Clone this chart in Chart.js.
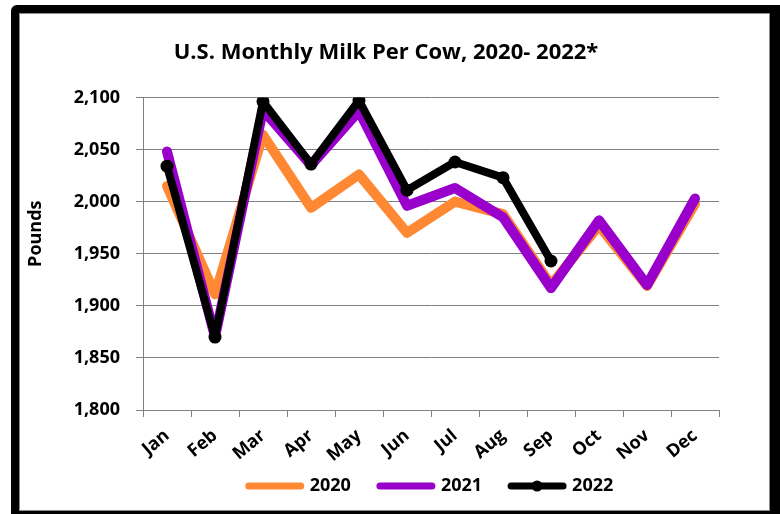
<!DOCTYPE html>
<html><head><meta charset="utf-8">
<script src="https://cdn.jsdelivr.net/npm/chart.js@4/dist/chart.umd.min.js"></script>
<style>
html,body{margin:0;padding:0;background:#fff;}
#wrap{position:relative;width:780px;height:514px;overflow:hidden;background:#fff;}
#frame{position:absolute;left:11px;top:5px;width:769px;height:516px;box-sizing:border-box;border-style:solid;border-color:#000;border-width:8px 10px 10px 8px;border-top-left-radius:6px;box-shadow:inset 0 0 0 1px #8a8a8a;}
#c{position:absolute;left:0;top:0;}
</style></head><body>
<div id="wrap"><div id="frame"></div><canvas id="c" width="780" height="514"></canvas></div>
<script>
const months = ['Jan','Feb','Mar','Apr','May','Jun','Jul','Aug','Sep','Oct','Nov','Dec'];
const milk2020 = [2015, 1911, 2064, 1994, 2026, 1970, 2000, 1988, 1920, 1977, 1919, 1998];
const milk2021 = [2048, 1870, 2088, 2035, 2087, 1996, 2013, 1985, 1917, 1982, 1920, 2003];
const milk2022 = [2034, 1870, 2096, 2036, 2097, 2011, 2038, 2023, 1943];
const seriesNames = ['2020', '2021', '2022'];
const yMin = 1800, yMax = 2100, yStep = 50;
const titleText = 'U.S. Monthly Milk Per Cow, 2020- 2022*';
const yTitle = 'Pounds';

const FONT = '"Open Sans"';
const colors = ['#FF8833', '#9900CC', '#000000'];

const legendDot = {
  id: 'legendDot',
  afterDraw(chart) {
    const lg = chart.legend;
    if (!lg || !lg.legendHitBoxes) return;
    const i = lg.legendItems.findIndex(it => it.datasetIndex === 2);
    const hb = lg.legendHitBoxes[i];
    if (!hb) return;
    const bw = lg.options.labels.pointStyleWidth;
    const ctx = chart.ctx;
    ctx.save();
    ctx.fillStyle = '#000';
    ctx.beginPath();
    ctx.arc(hb.left + bw / 2, hb.top + 9, 5.5, 0, Math.PI * 2);
    ctx.fill();
    ctx.restore();
  }
};

function draw() {
  const ctx = document.getElementById('c').getContext('2d');
  new Chart(ctx, {
    type: 'line',
    data: {
      labels: months,
      datasets: [
        { label: seriesNames[0], data: milk2020, borderColor: colors[0], backgroundColor: colors[0],
          borderWidth: 10, pointRadius: 0, order: 3 },
        { label: seriesNames[1], data: milk2021, borderColor: colors[1], backgroundColor: colors[1],
          borderWidth: 10, pointRadius: 0, order: 2 },
        { label: seriesNames[2], data: milk2022, borderColor: colors[2], backgroundColor: colors[2],
          borderWidth: 8, pointRadius: 6.5, pointBorderWidth: 0, pointBackgroundColor: '#000', order: 1 }
      ]
    },
    options: {
      responsive: false,
      devicePixelRatio: 1,
      animation: false,
      events: [],
      elements: { line: { tension: 0, borderCapStyle: 'round', borderJoinStyle: 'round' } },
      layout: { padding: { left: 0, right: 8, top: 0, bottom: 9 } },
      plugins: {
        tooltip: { enabled: false },
        title: {
          display: true, text: titleText, color: '#000',
          font: { family: FONT, size: 22, weight: 'bold' },
          padding: { top: 40, bottom: 31 }
        },
        legend: {
          position: 'bottom', fullSize: false,
          labels: {
            usePointStyle: true, pointStyleWidth: 52, boxHeight: 18, padding: 29,
            color: '#000', font: { family: FONT, size: 18, weight: 'bold' },
            generateLabels: (chart) => chart.data.datasets.map((d, i) => ({
              text: d.label, datasetIndex: i, pointStyle: 'line',
              strokeStyle: d.borderColor, fillStyle: d.borderColor,
              lineWidth: 7, lineCap: 'round', fontColor: '#000', hidden: false
            }))
          }
        }
      },
      scales: {
        x: {
          offset: true,
          grid: { drawOnChartArea: false, offset: true, color: '#808080', tickLength: 7 },
          border: { color: '#808080' },
          ticks: { color: '#000', font: { family: FONT, size: 18, weight: 'bold' },
                   minRotation: 40, maxRotation: 40, padding: 8, autoSkip: false },
          afterFit: s => { s.height = 38; s._computeLabelArea = () => undefined; }
        },
        y: {
          min: yMin, max: yMax,
          grid: { color: '#808080', tickLength: 7 },
          border: { color: '#808080' },
          ticks: { stepSize: yStep, color: '#000', padding: 16,
                   font: { family: FONT, size: 18, weight: 'bold' },
                   callback: v => v.toLocaleString('en-US') },
          title: { display: true, text: yTitle, color: '#000',
                   font: { family: FONT, size: 18, weight: 'bold' }, padding: { top: 25 } },
          afterFit: s => {
            s.width = 143;
            if (!s._titleShifted) {
              const orig = s.drawTitle;
              s.drawTitle = function () {
                const b = this.bottom;
                this.bottom = b - 40;
                orig.call(this);
                this.bottom = b;
              };
              s._titleShifted = true;
            }
          }
        },
        y2: {
          type: 'linear', position: 'right', display: true,
          grid: { display: false }, border: { display: false }, ticks: { display: false },
          afterFit: s => { s.width = 53; }
        }
      }
    },
    plugins: [legendDot]
  });
}
if (document.fonts && document.fonts.load) {
  Promise.all([document.fonts.load('bold 18px "Open Sans"'), document.fonts.load('bold 22px "Open Sans"')]).then(draw, draw);
} else { draw(); }
</script>
</body></html>
